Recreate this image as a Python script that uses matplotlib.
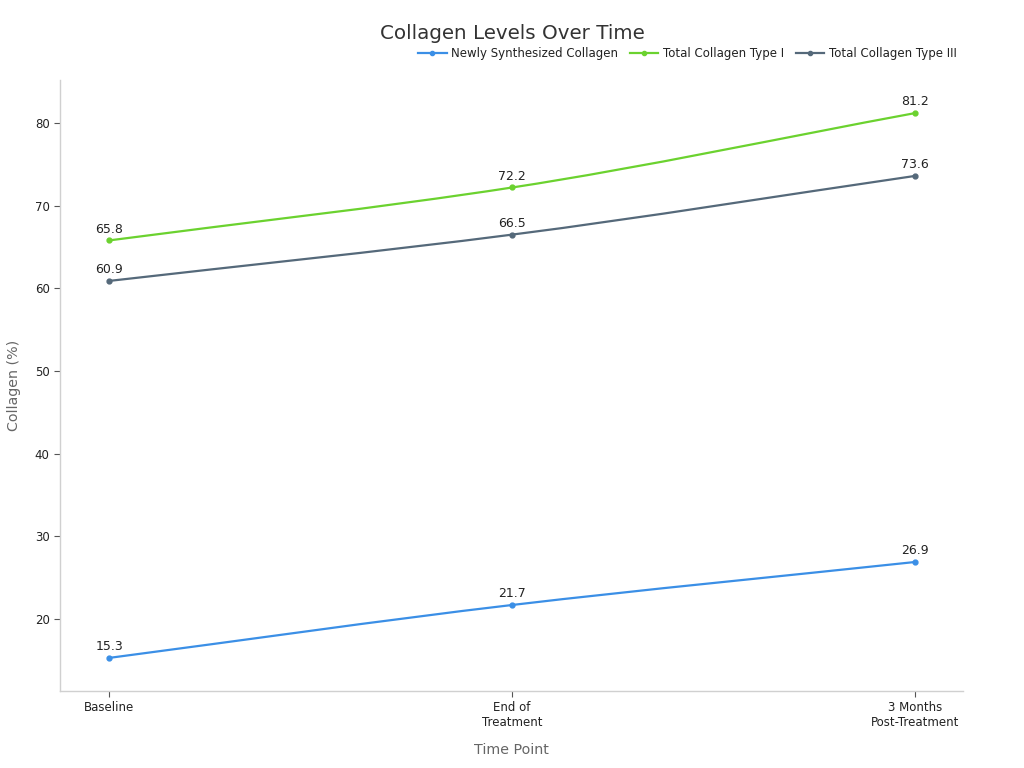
import matplotlib
matplotlib.use("Agg")
import matplotlib.pyplot as plt
from matplotlib.path import Path
from matplotlib.patches import PathPatch
from matplotlib.lines import Line2D
import numpy as np

categories = ["Baseline", "End of\nTreatment", "3 Months\nPost-Treatment"]
newly_synth = [15.3, 21.7, 26.9]
type_i = [65.8, 72.2, 81.2]
type_iii = [60.9, 66.5, 73.6]

series = [
    ("Newly Synthesized Collagen", newly_synth, "#3b8fe6"),
    ("Total Collagen Type I", type_i, "#6bd22f"),
    ("Total Collagen Type III", type_iii, "#55697a"),
]

plt.rcParams['font.family'] = ['DejaVu Sans']

fig = plt.figure(figsize=(10.24, 7.68), dpi=100)
ax = fig.add_axes([0.0586, 0.1003, 0.8818, 0.7955])


def monotone_path(x, y):
    x = np.asarray(x, float)
    y = np.asarray(y, float)
    n = len(x)
    h = np.diff(x)
    d = np.diff(y) / h
    m = np.zeros(n)
    m[0] = d[0]
    m[-1] = d[-1]
    for i in range(1, n - 1):
        if d[i - 1] * d[i] <= 0:
            m[i] = 0
        else:
            w1 = 2 * h[i] + h[i - 1]
            w2 = h[i] + 2 * h[i - 1]
            m[i] = (w1 + w2) / (w1 / d[i - 1] + w2 / d[i])
    verts = [(x[0], y[0])]
    codes = [Path.MOVETO]
    for i in range(n - 1):
        dx = h[i] / 3
        verts += [(x[i] + dx, y[i] + m[i] * dx),
                  (x[i + 1] - dx, y[i + 1] - m[i + 1] * dx),
                  (x[i + 1], y[i + 1])]
        codes += [Path.CURVE4] * 3
    return Path(verts, codes)


xs = np.arange(len(categories))
handles = []
for label, vals, color in series:
    patch = PathPatch(monotone_path(xs, vals), facecolor='none', edgecolor=color,
                      lw=1.6, zorder=3, capstyle='round')
    ax.add_patch(patch)
    ax.plot(xs, vals, linestyle='none', marker='o', markersize=3.5, color=color, zorder=4)
    for xi, v in zip(xs, vals):
        ax.annotate(f"{v:.1f}", (xi, v), xytext=(0, 3.5), textcoords='offset points',
                    ha='center', va='bottom', fontsize=9, color='#222222')
    handles.append(Line2D([0], [0], color=color, lw=1.6, marker='o', markersize=3, label=label))

ax.set_xlim(-0.122, 2.119)
ax.set_ylim(11.3, 85.2)
ax.set_xticks(xs)
ax.set_xticklabels(categories, fontsize=8.5, color='#222222')
ax.set_yticks([20, 30, 40, 50, 60, 70, 80])
ax.tick_params(axis='y', labelsize=8.5, labelcolor='#222222', color='#555555', length=4, width=0.8)
ax.tick_params(axis='x', color='#555555', length=4, width=0.8)

for s in ['top', 'right']:
    ax.spines[s].set_visible(False)
for s in ['left', 'bottom']:
    ax.spines[s].set_color('#d0d0d0')
    ax.spines[s].set_linewidth(1.0)

ax.set_xlabel("Time Point", fontsize=10.3, color='#666666', labelpad=10)
ax.set_ylabel("Collagen (%)", fontsize=10.3, color='#666666', labelpad=10)

fig.text(0.5, 0.957, "Collagen Levels Over Time", ha='center', va='center',
         fontsize=14.3, color='#333333')

fig.legend(handles=handles, loc='center right', bbox_to_anchor=(0.945, 0.930), ncol=3,
           frameon=False, fontsize=8.5, handlelength=2.4, handletextpad=0.4,
           columnspacing=1.0, labelcolor='#222222')

fig.savefig("out.png", dpi=100)
